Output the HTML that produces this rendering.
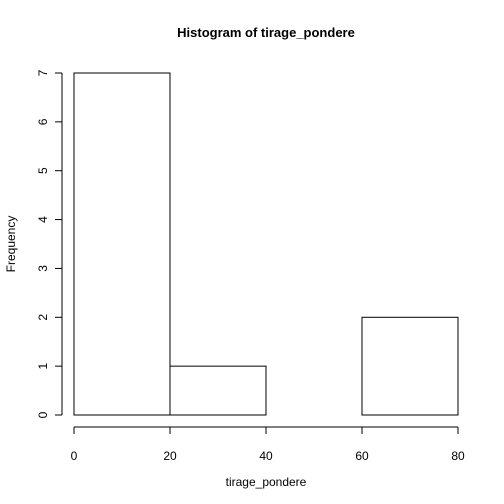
<!DOCTYPE html>
<html><head><style>body{margin:0;background:#fff}svg{display:block;font-family:"Liberation Sans",Arial,sans-serif}</style></head>
<body>
<svg id="chart" width="504" height="504" viewBox="0 0 504 504">
<rect width="504" height="504" fill="#fff"/>
<text x="266" y="37" text-anchor="middle" font-weight="bold" font-size="13">Histogram of tirage_pondere</text>
<text x="266" y="486" text-anchor="middle" font-size="12">tirage_pondere</text>
<text x="0" y="0" transform="translate(15,244) rotate(-90)" text-anchor="middle" font-size="12">Frequency</text>
<g id="bars"></g><g id="xaxis"></g><g id="yaxis"></g>
</svg>
<script>
const binEdges=[0,20,40,60,80];
const counts=[7,1,0,2];
const xTicks=[0,20,40,60,80];
const yTicks=[0,1,2,3,4,5,6,7];
const NS="http://www.w3.org/2000/svg";
const sx=v=>74+v*4.8, sy=v=>415-v*48.857;
function mk(t,a,p){const e=document.createElementNS(NS,t);for(const k in a)e.setAttribute(k,a[k]);p.appendChild(e);return e;}
const bars=document.getElementById('bars');
counts.forEach((c,i)=>{const r=mk('rect',{x:sx(binEdges[i]),y:sy(c),width:sx(binEdges[i+1])-sx(binEdges[i]),height:sy(0)-sy(c),fill:'none',stroke:'#000','stroke-width':1},bars);

});
const xa=document.getElementById('xaxis');
mk('line',{x1:sx(xTicks[0]),x2:sx(xTicks[xTicks.length-1]),y1:427,y2:427,stroke:'#000'},xa);
xTicks.forEach(t=>{mk('line',{x1:sx(t),x2:sx(t),y1:427,y2:434,stroke:'#000'},xa);
const tx=mk('text',{x:sx(t),y:460,'text-anchor':'middle','font-size':12},xa);tx.textContent=t;

});
const ya=document.getElementById('yaxis');
mk('line',{x1:62,x2:62,y1:sy(yTicks[0]),y2:sy(yTicks[yTicks.length-1]),stroke:'#000'},ya);
yTicks.forEach(t=>{mk('line',{x1:55,x2:62,y1:sy(t),y2:sy(t),stroke:'#000'},ya);
const tx=mk('text',{x:0,y:0,transform:`translate(47,${sy(t)}) rotate(-90)`,'text-anchor':'middle','font-size':12},ya);tx.textContent=t;

});
</script>
</body></html>
